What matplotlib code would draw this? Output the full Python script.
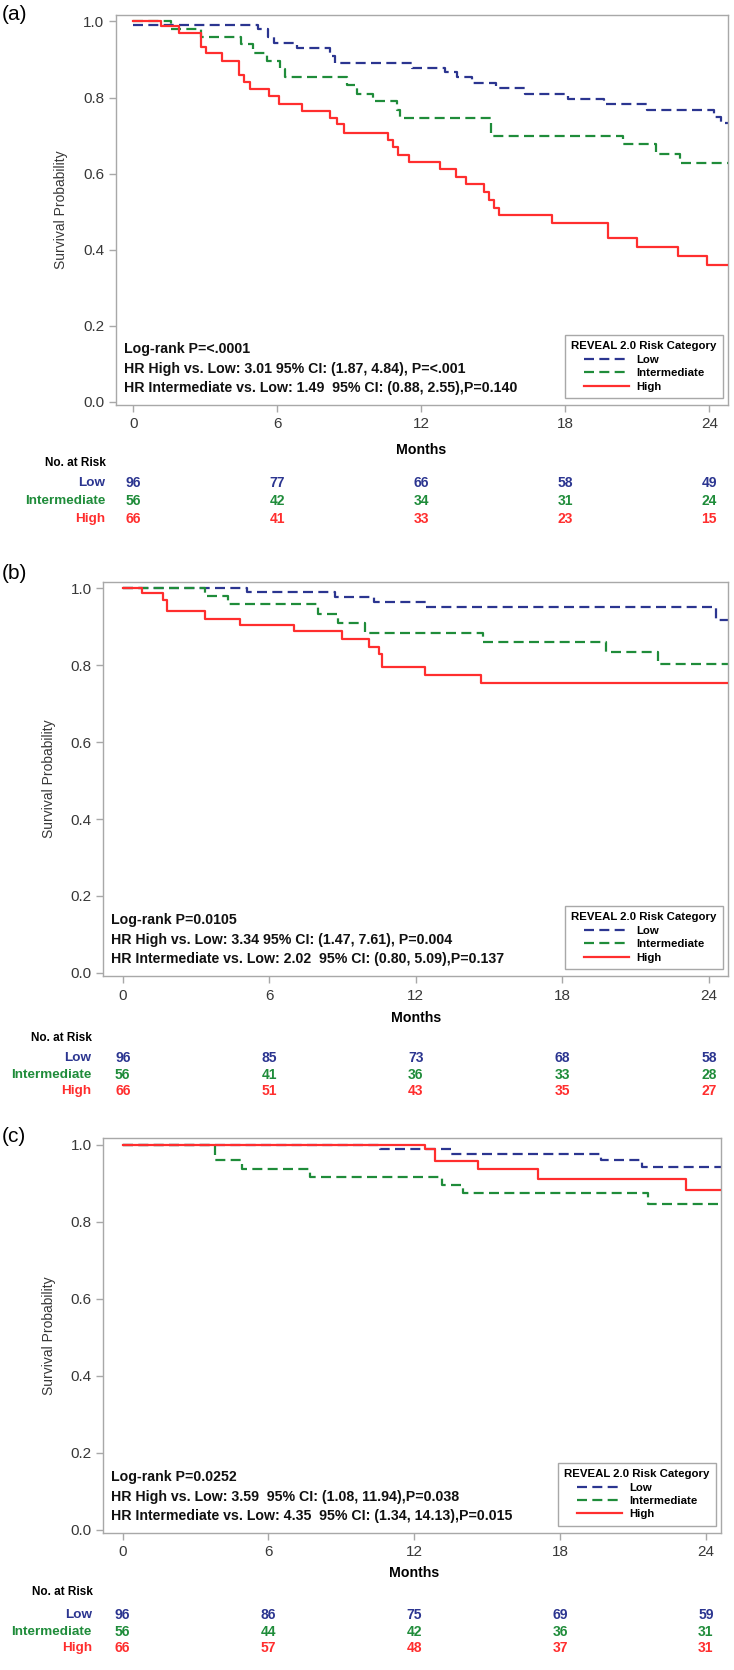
import numpy as np
import matplotlib
matplotlib.use("Agg")
import matplotlib.pyplot as plt
from matplotlib.transforms import blended_transform_factory

plt.rcParams['font.family'] = ['Liberation Sans', 'DejaVu Sans']

# -----------------------------
# Data
# -----------------------------
groups = ["Low", "Intermediate", "High"]
colors = ["#2b3590", "#1f8c3a", "#ff2e2e"]
month_ticks = [0, 6, 12, 18, 24]

# panel (a)
a_low_t = [0, 5.2, 5.6, 5.85, 6.8, 8.2, 8.4, 11.6, 13.0, 13.5, 14.1, 15.1, 16.3, 18.1, 19.6, 21.4, 24.2, 24.5, 24.8]
a_low_s = [0.99, 0.98, 0.96, 0.943, 0.93, 0.91, 0.892, 0.879, 0.866, 0.853, 0.839, 0.825, 0.81, 0.796, 0.782, 0.768, 0.75, 0.733, 0.733]
a_int_t = [0, 1.56, 2.83, 4.5, 5.0, 5.56, 6.1, 6.3, 8.9, 9.3, 10.0, 11.0, 11.1, 14.9, 20.4, 21.8, 22.8, 24.8]
a_int_s = [1.0, 0.98, 0.96, 0.94, 0.918, 0.896, 0.875, 0.853, 0.833, 0.81, 0.79, 0.768, 0.746, 0.70, 0.677, 0.652, 0.627, 0.627]
a_high_t = [0, 1.17, 1.91, 2.83, 3.02, 3.71, 4.4, 4.59, 4.88, 5.66, 6.05, 7.02, 8.2, 8.49, 8.78, 10.63, 10.83, 11.02,
            11.5, 12.78, 13.46, 13.85, 14.63, 14.83, 15.02, 15.22, 17.46, 19.8, 21.0, 22.7, 23.9, 24.8]
a_high_s = [1.0, 0.987, 0.969, 0.934, 0.917, 0.897, 0.86, 0.84, 0.822, 0.803, 0.783, 0.765, 0.746, 0.73, 0.706, 0.689,
            0.671, 0.649, 0.63, 0.611, 0.592, 0.572, 0.553, 0.531, 0.509, 0.491, 0.471, 0.43, 0.408, 0.383, 0.361, 0.361]
a_risk_low = [96, 77, 66, 58, 49]
a_risk_int = [56, 42, 34, 31, 24]
a_risk_high = [66, 41, 33, 23, 15]
a_stats = ["Log-rank P=<.0001",
           "HR High vs. Low: 3.01 95% CI: (1.87, 4.84), P=<.001",
           "HR Intermediate vs. Low: 1.49  95% CI: (0.88, 2.55),P=0.140"]

# panel (b)
b_low_t = [0, 5.08, 8.7, 10.3, 12.4, 24.3, 24.8]
b_low_s = [1.0, 0.989, 0.976, 0.965, 0.95, 0.917, 0.917]
b_int_t = [0, 3.35, 4.3, 8.0, 8.8, 9.9, 14.75, 19.8, 21.9, 24.8]
b_int_s = [1.0, 0.98, 0.959, 0.934, 0.91, 0.884, 0.86, 0.833, 0.804, 0.804]
b_high_t = [0, 0.77, 1.63, 1.82, 3.35, 4.79, 7.0, 8.97, 10.1, 10.5, 10.6, 12.36, 14.66, 24.8]
b_high_s = [1.0, 0.987, 0.969, 0.94, 0.921, 0.905, 0.888, 0.868, 0.848, 0.829, 0.794, 0.774, 0.754, 0.754]
b_risk_low = [96, 85, 73, 68, 58]
b_risk_int = [56, 41, 36, 33, 28]
b_risk_high = [66, 51, 43, 35, 27]
b_stats = ["Log-rank P=0.0105",
           "HR High vs. Low: 3.34 95% CI: (1.47, 7.61), P=0.004",
           "HR Intermediate vs. Low: 2.02  95% CI: (0.80, 5.09),P=0.137"]

# panel (c)
c_low_t = [0, 10.6, 13.5, 19.7, 21.35, 24.7]
c_low_s = [1.0, 0.989, 0.976, 0.96, 0.943, 0.943]
c_int_t = [0, 3.78, 4.93, 7.7, 13.16, 14.0, 21.6, 24.7]
c_int_s = [1.0, 0.96, 0.938, 0.917, 0.896, 0.874, 0.845, 0.845]
c_high_t = [0, 12.45, 12.87, 14.64, 17.1, 23.2, 24.7]
c_high_s = [1.0, 0.989, 0.958, 0.937, 0.912, 0.882, 0.882]
c_risk_low = [96, 86, 75, 69, 59]
c_risk_int = [56, 44, 42, 36, 31]
c_risk_high = [66, 57, 48, 37, 31]
c_stats = ["Log-rank P=0.0252",
           "HR High vs. Low: 3.59  95% CI: (1.08, 11.94),P=0.038",
           "HR Intermediate vs. Low: 4.35  95% CI: (1.34, 14.13),P=0.015"]

# -----------------------------
# Layout (pixels in the 734 x 1670 figure)
# -----------------------------
W, H = 734, 1670
fig = plt.figure(figsize=(W / 100, H / 100), dpi=100)

panels = [
    # label, (left, right, top, bottom), xlim, curves, risk, stats, ylabel_x, rowlabel_x, row ys, label y
    ("(a)", (115.6, 728, 15, 405), (-0.74, 24.78),
     [(a_low_t, a_low_s), (a_int_t, a_int_s), (a_high_t, a_high_s)],
     [a_risk_low, a_risk_int, a_risk_high], a_stats, 61, 105, (450, 463, 483, 501, 519), 15),
    ("(b)", (103, 728, 581.7, 976), (-0.81, 24.78),
     [(b_low_t, b_low_s), (b_int_t, b_int_s), (b_high_t, b_high_s)],
     [b_risk_low, b_risk_int, b_risk_high], b_stats, 49, 91, (1018, 1038, 1058, 1075, 1091), 573),
    ("(c)", (103, 721, 1138.3, 1532.7), (-0.81, 24.62),
     [(c_low_t, c_low_s), (c_int_t, c_int_s), (c_high_t, c_high_s)],
     [c_risk_low, c_risk_int, c_risk_high], c_stats, 49, 92, (1573, 1592, 1615, 1632, 1648), 1137),
]

frame_col = "#a8a8a8"
tick_col = "#383838"

for label, (l, r, t, b), xlim, curves, risk, stats, ylab_x, row_x, row_ys, lab_y in panels:
    ax = fig.add_axes([l / W, 1 - b / H, (r - l) / W, (b - t) / H])
    for (tt, ss), name, col in zip(curves, groups, colors):
        if name == "High":
            ax.step(tt, ss, where="post", color=col, lw=1.6, label=name, zorder=3)
        else:
            ax.step(tt, ss, where="post", color=col, lw=1.6, dashes=(4.5, 2.4), label=name, zorder=2)

    ax.set_xlim(*xlim)
    ax.set_ylim(-0.008, 1.017)
    ax.set_xticks(month_ticks)
    ax.set_yticks([0, 0.2, 0.4, 0.6, 0.8, 1.0])
    ax.set_yticklabels(["0.0", "0.2", "0.4", "0.6", "0.8", "1.0"])
    for sp in ax.spines.values():
        sp.set_color(frame_col)
        sp.set_linewidth(1.0)
    ax.tick_params(axis="both", colors=frame_col, labelcolor=tick_col, labelsize=11,
                   length=5, width=1.0)
    ax.tick_params(axis="x", pad=4)
    ax.tick_params(axis="y", pad=3)

    # stats text in lower-left of the plot
    for txt, dy in zip(stats, (56, 36, 17)):
        fig.text((l + 8) / W, 1 - (b - dy) / H, txt, fontsize=10.2, fontweight="bold",
                 ha="left", va="center", color="#111111")

    leg = ax.legend(loc="lower right", bbox_to_anchor=(1 - 5 / (r - l), 7 / (b - t)),
                    borderaxespad=0, title="REVEAL 2.0 Risk Category",
                    prop={"size": 8.2, "weight": "bold"},
                    title_fontproperties={"size": 8.2, "weight": "bold"},
                    handlelength=4.0, handletextpad=0.6, labelspacing=0.3,
                    fancybox=False, framealpha=1, edgecolor=frame_col, borderpad=0.55)
    leg.get_frame().set_linewidth(1.0)

    # panel label and axis titles
    fig.text(2 / W, 1 - lab_y / H, label, fontsize=15, ha="left", va="center")
    fig.text(ylab_x / W, 1 - (t + b) / 2 / H, "Survival Probability", rotation=90,
             fontsize=10, ha="center", va="center", color=tick_col)
    x0_px = l + (0 - xlim[0]) / (xlim[1] - xlim[0]) * (r - l)
    x24_px = l + (24 - xlim[0]) / (xlim[1] - xlim[0]) * (r - l)
    fig.text((x0_px + x24_px) / 2 / W, 1 - row_ys[0] / H, "Months", fontsize=10.2,
             fontweight="bold", ha="center", va="center")

    # number at risk table
    fig.text((row_x + 1) / W, 1 - row_ys[1] / H, "No. at Risk", fontsize=8.5, fontweight="bold",
             ha="right", va="center")
    trans = blended_transform_factory(ax.transData, fig.transFigure)
    for vals, name, col, yy in zip(risk, groups, colors, row_ys[2:]):
        fig.text(row_x / W, 1 - yy / H, name, fontsize=9.7, fontweight="bold",
                 ha="right", va="center", color=col)
        for m, v in zip(month_ticks, vals):
            ax.text(m, 1 - yy / H, str(v), transform=trans, fontsize=10, fontweight="bold",
                    ha="center", va="center", color=col, clip_on=False)

fig.savefig("out.png", dpi=100)
